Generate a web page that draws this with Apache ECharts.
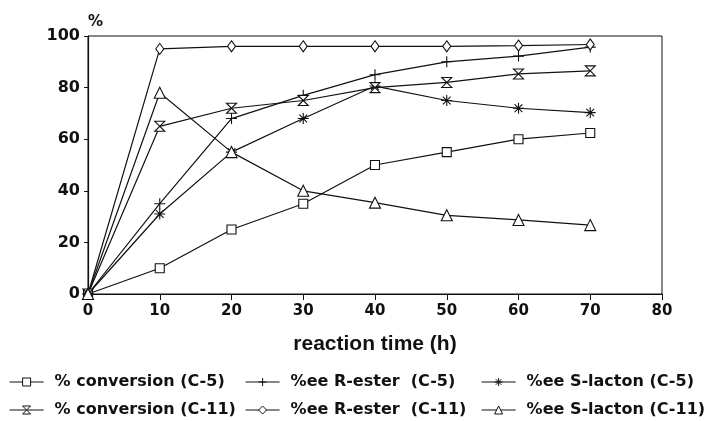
<!DOCTYPE html>
<html>
<head>
<meta charset="utf-8">
<script src="https://cdn.jsdelivr.net/npm/echarts@6/dist/echarts.min.js"></script>
<style>
html, body { margin: 0; padding: 0; background: #fff; }
#main { width: 710px; height: 421px; }
</style>
</head>
<body>
<div id="main"></div>
<script>
// reaction time (h)
var hours = [0, 10, 20, 30, 40, 50, 60, 70];

var convC5 = [0, 10, 25, 35, 50, 55, 60, 62.4];
var rEsterC5 = [0, 35, 68, 77, 85, 90, 92.2, 95.7];
var sLactonC5 = [0, 31, 55, 68, 80.6, 75, 72, 70.3];
var convC11 = [0, 65, 72, 75, 80, 82, 85.3, 86.5];
var rEsterC11 = [0, 95, 96, 96, 96, 96, 96.3, 96.7];
var sLactonC11 = [0, 78, 55, 40, 35.4, 30.5, 28.7, 26.7];

var names = [
	'% conversion (C-5)', '%ee R-ester  (C-5)', '%ee S-lacton (C-5)',
	'% conversion (C-11)', '%ee R-ester  (C-11)', '%ee S-lacton (C-11)'
];

var FONT = '"Liberation Sans", Arial, sans-serif';
var WIDE = '"DejaVu Sans", sans-serif';

var plusPath = 'path://M5 0L5 10M0 5L10 5';
var starPath = 'path://M5 0L5 10M0 5L10 5M1.5 1.5L8.5 8.5M8.5 1.5L1.5 8.5';
var hourglassPath = 'path://M0 0L10 0L0 10L10 10Z';

function pairs(ys) {
	return hours.map(function (h, i) { return [h, ys[i]]; });
}

function mkSeries(name, ys, symbol, size) {
	return {
		name: name,
		type: 'line',
		data: pairs(ys),
		symbol: symbol,
		symbolSize: size,
		showAllSymbol: true,
		lineStyle: { color: '#111', width: 1.2 },
		itemStyle: { color: '#fff', borderColor: '#111', borderWidth: 1.1 },
		emphasis: { disabled: true },
		animation: false
	};
}

// one legend per item so the columns line up like the original
function legendItem(left, top, name) {
	return {
		left: left,
		top: top,
		itemWidth: 34,
		itemHeight: 10,
		data: [name],
		selectedMode: false,
		lineStyle: { color: '#111', width: 1.2 },
		itemStyle: { color: '#fff', borderColor: '#111', borderWidth: 1 },
		textStyle: { fontFamily: WIDE, fontWeight: 'bold', fontSize: 16, color: '#111', padding: [0, 0, 0, 6] }
	};
}

var myChart = echarts.init(document.getElementById('main'));

myChart.setOption({
	backgroundColor: '#fff',
	grid: {
		left: 88, right: 48, top: 36, bottom: 127,
		show: true, borderColor: '#111', borderWidth: 1
	},
	legend: [
		legendItem(4, 369, names[0]),
		legendItem(240, 369, names[1]),
		legendItem(476, 369, names[2]),
		legendItem(4, 397, names[3]),
		legendItem(240, 397, names[4]),
		legendItem(476, 397, names[5])
	],
	xAxis: {
		type: 'value',
		min: 0, max: 80, interval: 10,
		name: 'reaction time (h)',
		nameLocation: 'middle',
		nameGap: 40,
		nameTextStyle: { fontFamily: FONT, fontWeight: 'bold', fontSize: 21, color: '#111' },
		axisLine: { lineStyle: { color: '#111', width: 1.2 } },
		axisTick: { show: true, length: 6, lineStyle: { color: '#111' } },
		axisLabel: { fontFamily: WIDE, fontWeight: 'bold', fontSize: 15, color: '#111', margin: 10 },
		splitLine: { show: false }
	},
	yAxis: {
		type: 'value',
		min: 0, max: 100, interval: 20,
		name: '%',
		nameLocation: 'end',
		nameGap: 6,
		nameTextStyle: { fontFamily: WIDE, fontWeight: 'bold', fontSize: 15, color: '#111', align: 'left', padding: [0, 0, 0, 0] },
		axisLine: { lineStyle: { color: '#111', width: 1.2 } },
		axisTick: { show: true, length: 4, lineStyle: { color: '#111' } },
		axisLabel: { fontFamily: WIDE, fontWeight: 'bold', fontSize: 16, color: '#111', margin: 8 },
		splitLine: { show: false }
	},
	series: [
		mkSeries(names[0], convC5, 'rect', 9),
		mkSeries(names[1], rEsterC5, plusPath, 11),
		mkSeries(names[2], sLactonC5, starPath, 11),
		mkSeries(names[3], convC11, hourglassPath, 10),
		mkSeries(names[4], rEsterC11, 'diamond', [8, 11]),
		mkSeries(names[5], sLactonC11, 'triangle', 11)
	]
});
</script>
</body>
</html>
